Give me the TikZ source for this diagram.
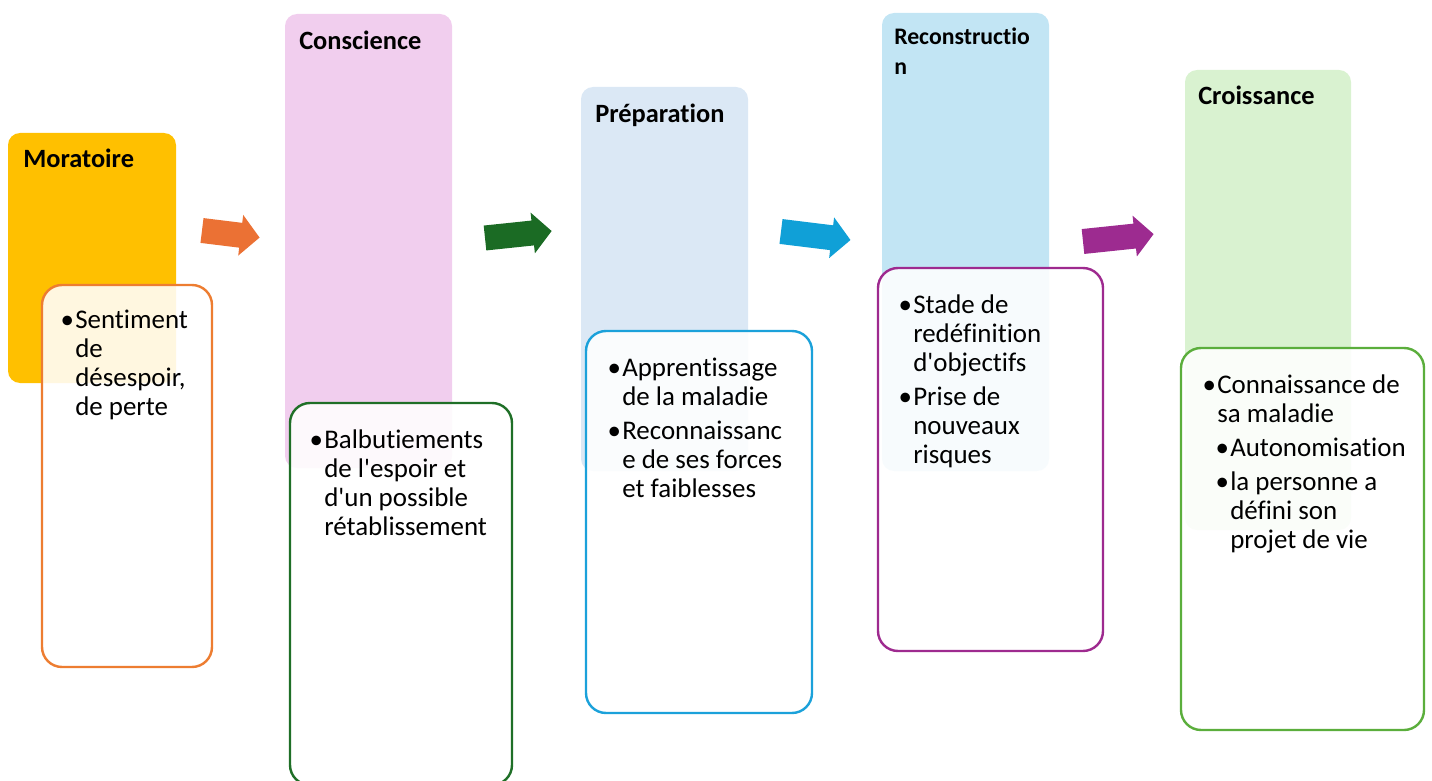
\documentclass[tikz,border=0pt]{standalone}
\usepackage{fontspec}
\setmainfont{Carlito}[Ligatures={TeX,NoCommon}]
\usetikzlibrary{calc}
\definecolor{cMor}{HTML}{FFC000}
\definecolor{cCon}{HTML}{F1CEEE}
\definecolor{cPre}{HTML}{DBE8F5}
\definecolor{cRec}{HTML}{C2E5F4}
\definecolor{cCro}{HTML}{D9F2D0}
\definecolor{bMor}{HTML}{ED7D31}
\definecolor{bCon}{HTML}{1F6F27}
\definecolor{bPre}{HTML}{1BA1DA}
\definecolor{bRec}{HTML}{9E2A8F}
\definecolor{bCro}{HTML}{5BAE3C}
\definecolor{aOrange}{HTML}{EB7134}
\definecolor{aGreen}{HTML}{1B6B24}
\definecolor{aBlue}{HTML}{10A0D7}
\definecolor{aPurple}{HTML}{9D2B90}
\def\blockarrow[#1](#2)(#3:#4){\fill[#1,shift={(#2)},rotate=#3] (0,-12.5) -- ({#4-19},-12.5) -- ({#4-19},-20.5) -- (#4,0) -- ({#4-19},20.5) -- ({#4-19},12.5) -- (0,12.5) -- cycle;}
\def\bul{\llap{•\hspace{1pt}}}
\tikzset{
  title/.style={anchor=base west, inner sep=0pt, font=\fontsize{19.8}{22}\selectfont\bfseries},
  body/.style={anchor=base west, inner sep=0pt, align=left, font=\fontsize{20.2}{21.75}\selectfont},
  stage/.style={rounded corners=9pt},
  card/.style={line width=1.8pt, fill=white, fill opacity=0.88, rounded corners=15pt}
}

\begin{document}
\begin{tikzpicture}[x=0.75pt,y=-0.75pt]
			%%%%% START %%%%%
			\useasboundingbox (0,0) rectangle (1432,781);
			
			% Moratoire (text nodes sit on the baseline of their last line)
			\fill[stage, cMor] (8,133) rectangle (176,383);
			\node[title] (mor) at (23,168) {Moratoire};
			\draw[card, draw=bMor] (42,285) rectangle (212,667);
			\node[body] (morTxt) at (75,415) {\bul Sentiment\\de\\désespoir,\\de perte};
			
			% Conscience
			\fill[stage, cCon] (285,14) rectangle (452,468);
			\node[title] (con) at (299,50) {Conscience};
			\draw[card, draw=bCon] (290,403) rectangle (512,785);
			\node[body] (conTxt) at (324,535) {\bul Balbutiements\\de l\textquotesingle espoir et\\d\textquotesingle un possible\\rétablissement};
			
			% Preparation
			\fill[stage, cPre] (581,87) rectangle (748,471);
			\node[title] (pre) at (595,123) {Préparation};
			\draw[card, draw=bPre] (586,331) rectangle (812,713);
			\node[body] (preTxt) at (622,497) {\bul Apprentissage\\de la maladie\\[3.75pt]\bul Reconnaissanc\\e de ses forces\\et faiblesses};
			
			% Reconstruction
			\fill[stage, cRec] (882,13) rectangle (1049,471);
			\node[title, font=\fontsize{17.8}{22.5}\selectfont\bfseries, align=left] (rec) at (894,75) {Reconstructio\\n};
			\draw[card, draw=bRec] (878,268) rectangle (1103,651);
			\node[body] (recTxt) at (913,463) {\bul Stade de\\redéfinition\\d\textquotesingle objectifs\\[3.75pt]\bul Prise de\\nouveaux\\risques};
			
			% Croissance
			\fill[stage, cCro] (1185,70) rectangle (1351,530);
			\node[title] (cro) at (1198,105) {Croissance};
			\draw[card, draw=bCro] (1181,348) rectangle (1424,730);
			\node[body] (croTxt) at (1217,422) {\bul Connaissance de\\sa maladie};
			\node[body] (croSub) at (1230,548) {\bul Autonomisation\\[3.75pt]\bul la personne a\\défini son\\projet de vie};
			
			% arrows
			\blockarrow[aOrange](202,230.5)(-7:58)
			\blockarrow[aGreen](485,238)(6:67)
			\blockarrow[aBlue](781,231.5)(-7:70)
			\blockarrow[aPurple](1083,241.5)(6:71)
			
			%%%%% END %%%%%
		\end{tikzpicture}
\end{document}
